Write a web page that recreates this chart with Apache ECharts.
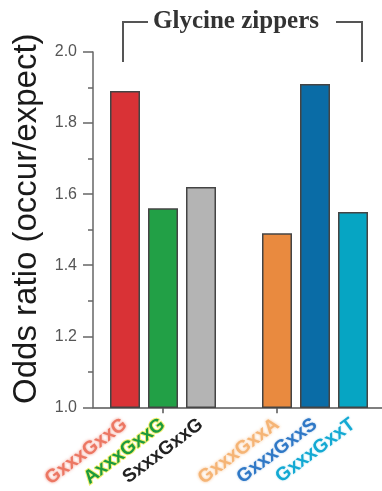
<!DOCTYPE html>
<html>
<head>
<meta charset="utf-8">
<script src="https://cdn.jsdelivr.net/npm/echarts@6/dist/echarts.min.js"></script>
<style>
  html, body { margin: 0; padding: 0; background: #fff; }
  #chart { width: 382px; height: 491px; }
</style>
</head>
<body>
<div id="chart"></div>
<script>
// motifs, the empty slot is the gap between the two groups
const motifs = ['GxxxGxxG', 'AxxxGxxG', 'SxxxGxxG', '', 'GxxxGxxA', 'GxxxGxxS', 'GxxxGxxT'];
const oddsRatio = [1.89, 1.56, 1.62, null, 1.49, 1.91, 1.55];
const barColors = ['#d93236', '#22a046', '#b4b4b4', '#ffffff', '#e98a3f', '#0a6ca6', '#06a5c3'];
const yTicks = [1.0, 1.2, 1.4, 1.6, 1.8, 2.0];

const labelStyles = {
    r: { color: '#ec7763', textShadowColor: 'rgba(236,110,90,0.8)', textShadowBlur: 3 },
    g: { color: '#1c9a3e', textBorderColor: '#f2ee70', textBorderWidth: 2 },
    k: { color: '#222222' },
    o: { color: '#f5b475', textShadowColor: 'rgba(245,170,100,0.8)', textShadowBlur: 3 },
    b: { color: '#2f78c6', textShadowColor: 'rgba(47,120,198,0.5)', textShadowBlur: 2 },
    c: { color: '#13a9d3', textShadowColor: 'rgba(19,169,211,0.4)', textShadowBlur: 2 },
};
const labelKeys = ['r', 'g', 'k', '', 'o', 'b', 'c'];

const chart = echarts.init(document.getElementById('chart'), null, { renderer: 'canvas' });

chart.setOption({
    animation: false,
    backgroundColor: '#ffffff',
    grid: [
        { left: 106, right: 10, top: 52, bottom: 83 },
        // wider grid only to draw the long baseline
        { left: 93, right: 0, top: 52, bottom: 83 },
    ],
    xAxis: [
        {
            type: 'category',
            gridIndex: 0,
            data: motifs,
            axisLine: { show: false },
            axisTick: {
                show: true,
                alignWithLabel: true,
                length: 6,
                interval: (i) => i === 1 || i === 4,
                lineStyle: { color: '#555', width: 1.5 },
            },
            axisLabel: {
                interval: 0,
                rotate: 37,
                margin: 15,
                fontFamily: 'Liberation Sans',
                fontWeight: 'bold',
                fontSize: 19,
                formatter: (v, i) => (v ? `{${labelKeys[i]}|${v}}` : ''),
                rich: labelStyles,
            },
        },
        {
            type: 'value',
            gridIndex: 1,
            axisLine: { show: true, lineStyle: { color: '#555', width: 1.5 } },
            axisTick: { show: false },
            axisLabel: { show: false },
            splitLine: { show: false },
        },
    ],
    yAxis: [
        {
            type: 'value',
            gridIndex: 0,
            min: yTicks[0],
            max: yTicks[yTicks.length - 1],
            interval: 0.2,
            offset: 13,
            name: 'Odds ratio (occur/expect)',
            nameLocation: 'middle',
            nameRotate: 90,
            nameGap: 50,
            nameTextStyle: {
                fontFamily: 'Liberation Sans',
                fontSize: 33,
                color: '#1a1a1a',
                padding: [0, 0, 0, 22],
            },
            axisLine: { show: true, lineStyle: { color: '#666', width: 1.5 } },
            axisTick: { show: true, length: 10, lineStyle: { color: '#666', width: 1.5 } },
            minorTick: { show: true, splitNumber: 2, length: 5, lineStyle: { color: '#666', width: 1.5 } },
            axisLabel: {
                margin: 16,
                fontFamily: 'Liberation Sans',
                fontSize: 16,
                color: '#555',
                formatter: (v) => v.toFixed(1),
            },
            splitLine: { show: false },
        },
        { type: 'value', gridIndex: 1, show: false },
    ],
    series: [
        {
            type: 'bar',
            xAxisIndex: 0,
            yAxisIndex: 0,
            barWidth: 30,
            data: oddsRatio.map((v, i) => ({
                value: v,
                itemStyle: { color: barColors[i], borderColor: '#444', borderWidth: 1.5 },
            })),
        },
    ],
    graphic: [
        {
            type: 'text',
            x: 236,
            y: 22,
            style: {
                text: 'Glycine zippers',
                fontFamily: 'Liberation Serif',
                fontWeight: 'bold',
                fontSize: 25,
                fill: '#333',
                textAlign: 'center',
                textVerticalAlign: 'middle',
            },
        },
        {
            type: 'polyline',
            shape: { points: [[123, 62], [123, 22], [148, 22]] },
            style: { stroke: '#555', lineWidth: 2, fill: null },
        },
        {
            type: 'polyline',
            shape: { points: [[336, 22], [362, 22], [362, 62]] },
            style: { stroke: '#555', lineWidth: 2, fill: null },
        },
    ],
});
</script>
</body>
</html>
